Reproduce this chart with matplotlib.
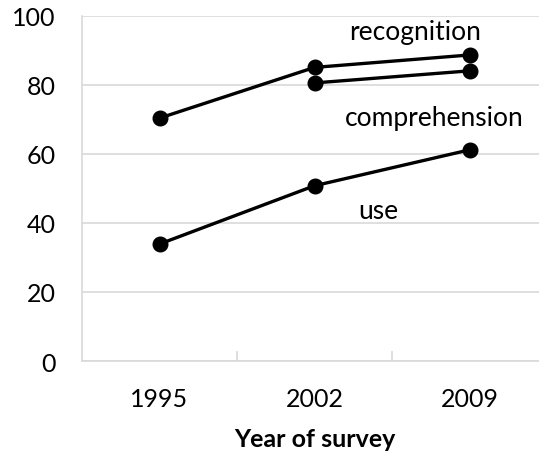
import numpy as np
import matplotlib.pyplot as plt
from matplotlib.ticker import FixedLocator

years = ['1995', '2002', '2009']
recognition = [70.4, 85.1, 88.7]
comprehension = [None, 80.6, 84.1]
use = [33.9, 50.8, 61.2]

plt.rcParams['font.family'] = ['Lato', 'DejaVu Sans']

fig = plt.figure(figsize=(5.39, 4.56), dpi=100)
ax = fig.add_axes([82 / 539, 1 - 362 / 456, 465 / 539, 345 / 456])

x = np.arange(len(years))

def draw(vals):
    xs = [i for i, v in zip(x, vals) if v is not None]
    ys = [v for v in vals if v is not None]
    ax.plot(xs, ys, color='black', lw=2.4, marker='o', ms=10.5, zorder=3)

draw(recognition)
draw(comprehension)
draw(use)

ax.text(1.65, 95.4, 'recognition', fontsize=19, ha='center', va='center')
ax.text(1.77, 70.7, 'comprehension', fontsize=19, ha='center', va='center')
ax.text(1.41, 43.5, 'use', fontsize=19, ha='center', va='center')

ax.set_xlim(-0.5, 2.5)
ax.set_ylim(0, 100)
ax.set_yticks(range(0, 101, 20))
ax.yaxis.grid(True, color='#d9d9d9', lw=1.2)
ax.set_axisbelow(True)

ax.set_xticks(x)
ax.set_xticklabels(years)
ax.xaxis.set_minor_locator(FixedLocator([0.5, 1.5]))
ax.tick_params(axis='x', which='major', length=0, pad=19, labelsize=18)
ax.tick_params(axis='x', which='minor', direction='in', length=7, color='#d9d9d9', width=1.2)
ax.tick_params(axis='y', length=0, pad=19, labelsize=18)

for s in ['top', 'right']:
    ax.spines[s].set_visible(False)
for s in ['left', 'bottom']:
    ax.spines[s].set_color('#d9d9d9')
    ax.spines[s].set_linewidth(1.2)

ax.set_xlabel('Year of survey', fontsize=18, fontweight='bold', labelpad=12)

fig.savefig('out.png', dpi=100)
